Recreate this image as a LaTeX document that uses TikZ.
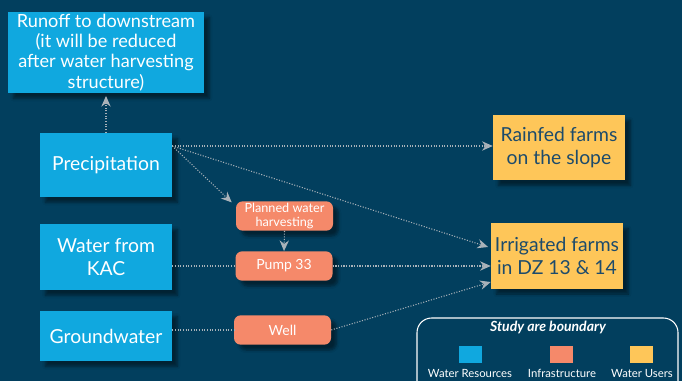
\documentclass[tikz,border=0pt]{standalone}
\usepackage{fontspec}
\setmainfont{Lato}
\usetikzlibrary{arrows.meta,shadows.blur,positioning}
\definecolor{bg}{HTML}{023F5E}
\definecolor{resblue}{HTML}{10A8DF}
\definecolor{infra}{HTML}{F5896A}
\definecolor{users}{HTML}{FEC659}
\definecolor{usertext}{HTML}{1D4B6B}
\definecolor{conn}{HTML}{A9B2B9}
\tikzset{
  sh/.style={blur shadow={shadow xshift=4pt,shadow yshift=-4pt,shadow opacity=45,shadow blur steps=6}},
  resbox/.style={sh,fill=resblue,text=white,align=center,inner sep=1pt,font=\fontsize{14.5}{17}\selectfont},
  infbox/.style={sh,fill=infra,text=white,align=center,rounded corners=5pt,inner sep=1pt,minimum width=72.75pt,minimum height=22pt,font=\fontsize{9.5}{11}\selectfont},
  userbox/.style={sh,fill=users,text=usertext,align=center,inner sep=1pt,minimum width=99pt,minimum height=49pt,font=\fontsize{14.5}{17}\selectfont},
  flow/.style={conn,line width=0.8pt,dash pattern=on 0.8pt off 1.2pt,-{Stealth[length=8pt,width=7pt]}},
  plain/.style={conn,line width=0.8pt,dash pattern=on 0.8pt off 1.2pt},
  legtext/.style={text=white,font=\fontsize{8.5}{10}\selectfont}
}
\begin{document}
\begin{tikzpicture}[x=0.75pt,y=-0.75pt]
\useasboundingbox (0,0) rectangle (682,381);
\clip (0,0) rectangle (682,381);
\fill[bg] (0,0) rectangle (682,381);
% water resources
\node[resbox,minimum width=147pt,minimum height=60.75pt,font=\fontsize{13.6}{15.2}\selectfont] (runoff) at (106,52.5) {Runoff to downstream\\(it will be reduced\\after water harvesting\\structure)};
\node[resbox,minimum width=99pt,minimum height=48pt] (precip) at (106,165) {Precipitation};
\node[resbox,minimum width=99pt,minimum height=49.5pt] (kac) at (106,257) {Water from\\KAC};
\node[resbox,minimum width=99pt,minimum height=37.5pt] (gw) at (106,336) {Groundwater};
% infrastructure
\node[infbox] (planned) at (284.5,216) {Planned water\\harvesting};
\node[infbox,font=\fontsize{10.5}{12}\selectfont] (pump) at (284,266) {Pump 33};
\node[infbox,font=\fontsize{10.5}{12}\selectfont] (well) at (282.5,330) {Well};
% users
\node[userbox] (rainfed) at (559,147.5) {Rainfed farms\\on the slope};
\node[userbox] (irrig) at (557,256) {Irrigated farms\\in DZ 13 \& 14};
% connectors
\coordinate (psrc) at ([yshift=14.25pt]precip.east);
\draw[flow] (precip.north) -- ([yshift=-2pt]runoff.south);
\draw[flow] (psrc) -- (rainfed.west |- psrc);
\draw[flow] (psrc) -- ([xshift=-2pt,yshift=6.75pt]irrig.west);
\draw[flow] (psrc) -- ([xshift=-3pt,yshift=-1pt]planned.north west);
\draw[flow] (planned.south) -- (pump.north);
\draw[plain] (kac.east |- pump.west) -- (pump.west);
\draw[flow] (pump.east) -- (irrig.west |- pump.east);
\draw[plain] (gw.east |- well.west) -- (well.west);
\draw[flow] (well.east) -- ([yshift=-19.5pt]irrig.west);
% legend
\draw[white,line width=0.8pt,rounded corners=11pt] (417,318) rectangle (678,400);
\node[text=white,font=\fontsize{10.5}{12}\selectfont\bfseries\itshape] (legtitle) at (548,327.5) {Study are boundary};
\node[fill=resblue,minimum width=17.25pt,minimum height=12.75pt,inner sep=0pt] (lres) at (470.5,354.5) {};
\node[fill=infra,minimum width=17.25pt,minimum height=12.75pt,inner sep=0pt] (linf) at (561.5,354.5) {};
\node[fill=users,minimum width=17.25pt,minimum height=12.75pt,inner sep=0pt] (lusr) at (641.5,354.5) {};
\node[legtext] (tres) at (470,373) {Water Resources};
\node[legtext] (tinf) at (562,373) {Infrastructure};
\node[legtext] (tusr) at (642,373) {Water Users};
\end{tikzpicture}
\end{document}
